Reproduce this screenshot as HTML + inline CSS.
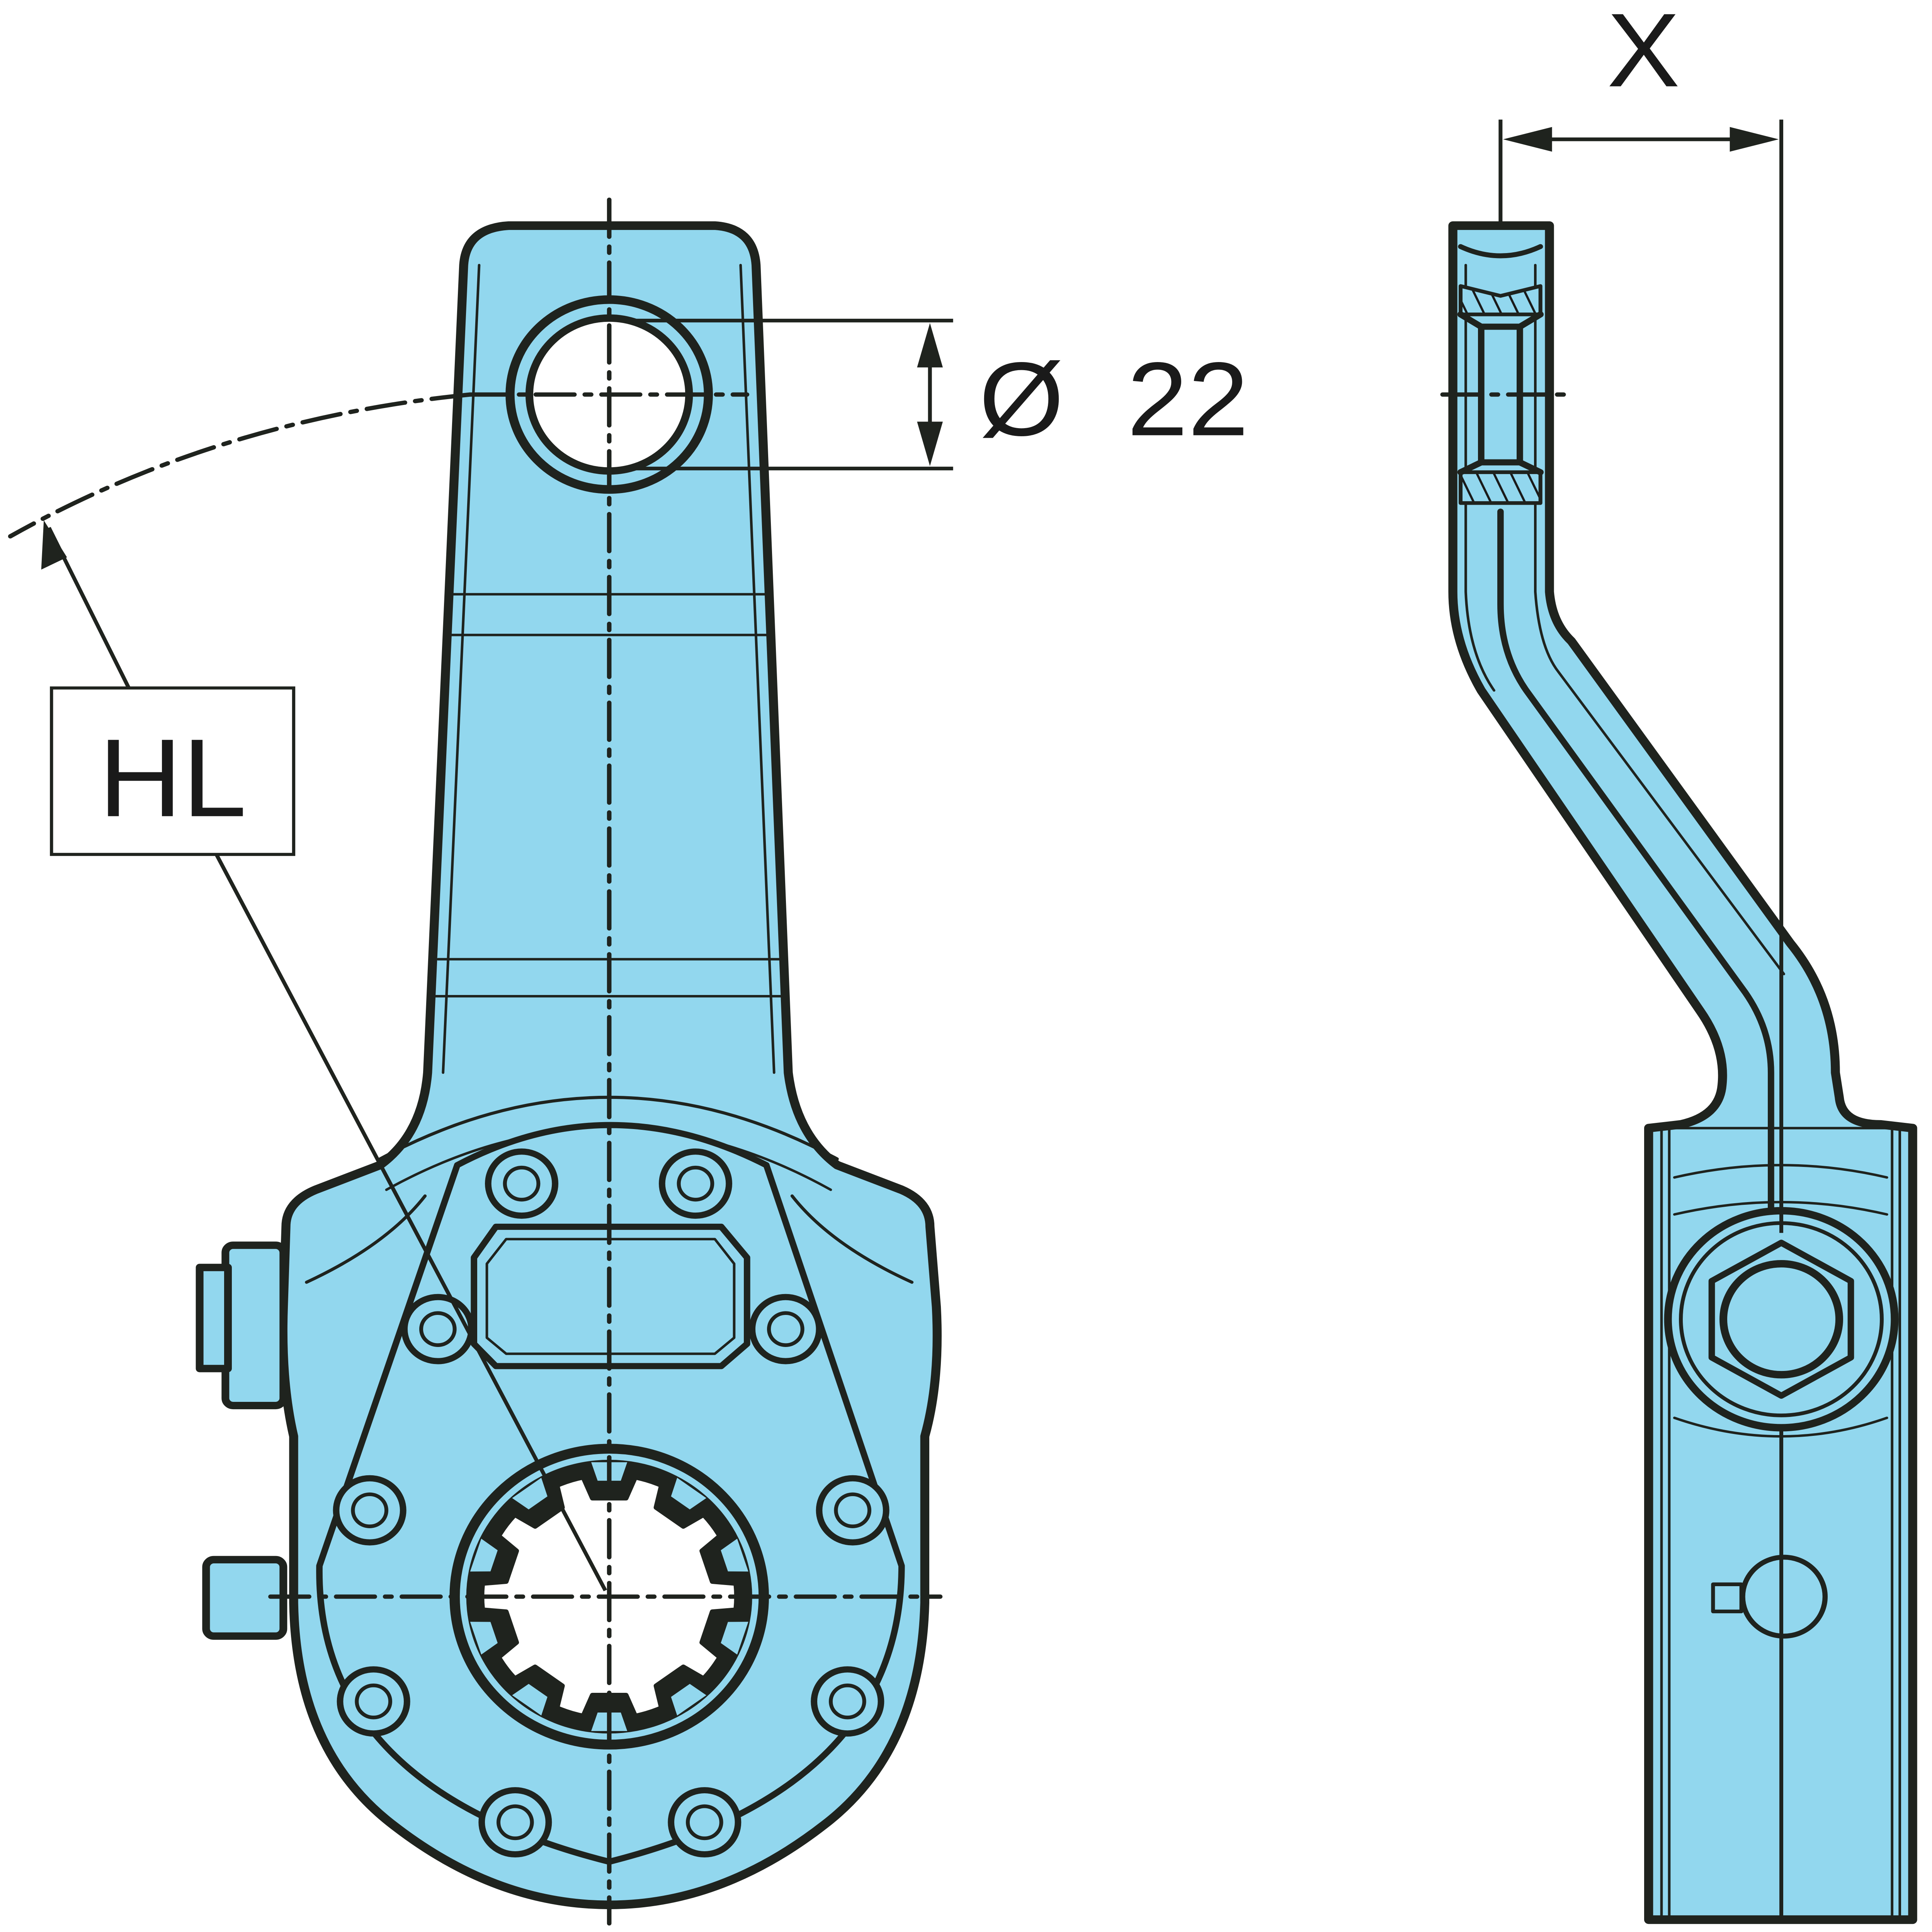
<!DOCTYPE html>
<html><head><meta charset="utf-8"><style>
html,body{margin:0;padding:0;background:#fff;width:100%;height:100%;overflow:hidden;}
svg{display:block;width:100vw;height:100vh;}
text{font-family:"Liberation Sans",sans-serif;fill:#1a1a1a;}
</style></head><body>
<svg viewBox="0 0 1500 1567" preserveAspectRatio="none" xmlns="http://www.w3.org/2000/svg">
<defs>
<pattern id="hatch" patternUnits="userSpaceOnUse" width="12" height="12" patternTransform="rotate(-25)">
<rect width="12" height="12" fill="#92d7ee"/><line x1="0" y1="0" x2="0" y2="12" stroke="#1a1a1a" stroke-width="3.5"/>
</pattern>
<g id="tooth">
<polygon points="-24,-106 24,-106 13,-80 -13,-80" fill="#1f231e" stroke="#1f231e" stroke-width="4" stroke-linejoin="round"/>
<polygon points="-14,-109 14,-109 9,-94 -9,-94" fill="#92d7ee"/>
</g>
</defs>
<g stroke="#1f231e" fill="#92d7ee" stroke-linejoin="round" stroke-linecap="round">
<path d="M395,183 L555,183 Q585,185 587,215 L612,870 Q618,920 650,945 L700,965 Q722,975 722,995 L727,1060 Q730,1120 718,1165 L718,1300 Q715,1420 640,1480 Q560,1545 473,1545 Q385,1545 305,1480 Q230,1420 228,1300 L228,1165 Q218,1120 220,1060 L222,995 Q222,975 245,965 L295,945 Q328,920 332,870 L360,215 Q362,185 395,183 Z" stroke-width="7"/>
<path d="M372,215 L344,870" fill="none" stroke-width="2"/>
<path d="M575,215 L601,870" fill="none" stroke-width="2"/>
<path d="M352,482 L596,482 M350,515 L598,515 M340,778 L606,778 M338,808 L608,808" stroke-width="2" fill="none"/>
<path d="M295,940 Q473,840 650,940" fill="none" stroke-width="2.5"/>
<path d="M300,965 Q473,865 645,965" fill="none" stroke-width="2"/>
<path d="M238,1040 Q300,1010 330,970 M708,1040 Q645,1010 615,970" fill="none" stroke-width="2.5"/>
<path d="M355,945 Q473,880 595,945 L700,1270 Q700,1450 473,1510 Q245,1450 248,1270 Z" stroke-width="5"/>
<path d="M385,995 L560,995 L580,1020 L580,1090 L560,1108 L385,1108 L368,1090 L368,1020 Z" fill="none" stroke-width="5"/>
<path d="M393,1005 L555,1005 L570,1025 L570,1085 L555,1098 L393,1098 L378,1085 L378,1025 Z" fill="none" stroke-width="2"/>
<circle cx="473" cy="320" r="77" stroke-width="7"/>
<circle cx="473" cy="320" r="62" fill="#fff" stroke-width="6"/>
<circle cx="473" cy="1295" r="120" stroke-width="8"/>
<rect x="175" y="1010" width="45" height="130" rx="6" stroke-width="6"/>
<rect x="155" y="1028" width="22" height="82" stroke-width="6"/>
<rect x="160" y="1265" width="60" height="62" rx="6" stroke-width="6"/>
<path d="M1128,183 L1203,183 L1203,480 Q1205,505 1220,520 L1390,765 Q1425,810 1425,870 L1428,890 Q1430,912 1460,912 L1485,915 L1485,1557 L1280,1557 L1280,915 L1305,912 Q1335,905 1337,880 Q1340,850 1320,820 L1150,560 Q1128,520 1128,480 Z" stroke-width="7"/>
<path d="M1165,415 L1165,490 Q1165,530 1185,560 L1355,805 Q1375,835 1375,870 L1375,990" fill="none" stroke-width="5"/>
<path d="M1138,215 L1138,480 Q1140,530 1160,560 M1192,215 L1192,480 Q1195,525 1210,545 L1385,790" fill="none" stroke-width="2"/>
<path d="M1134,232 L1165,240 L1196,232 L1196,255 L1134,255 Z" fill="url(#hatch)" stroke-width="3"/>
<path d="M1134,383 L1196,383 L1196,408 L1134,408 Z" fill="url(#hatch)" stroke-width="3"/>
<path d="M1134,255 L1150,265 L1180,265 L1196,255 M1134,383 L1150,375 L1180,375 L1196,383" fill="none" stroke-width="5"/>
<rect x="1150" y="265" width="30" height="110" stroke-width="5"/>
<path d="M1134,200 Q1165,215 1196,200" fill="none" stroke-width="4"/>
<rect x="1290" y="915" width="185" height="640" fill="none" stroke-width="2"/>
<path d="M1296,915 L1296,1555 M1469,915 L1469,1555" fill="none" stroke-width="2"/>
<circle cx="1383" cy="1070" r="88" stroke-width="6"/>
<circle cx="1383" cy="1070" r="78" fill="none" stroke-width="3"/>
<polygon points="1383,1008 1437,1039 1437,1101 1383,1132 1329,1101 1329,1039" stroke-width="5"/>
<circle cx="1383" cy="1070" r="45" stroke-width="6"/>
<path d="M1300,955 Q1383,935 1465,955 M1300,985 Q1383,965 1465,985 M1300,1150 Q1383,1180 1465,1150" fill="none" stroke-width="2"/>
<circle cx="1385" cy="1295" r="32" stroke-width="4"/>
<rect x="1330" y="1285" width="22" height="22" stroke-width="3"/>
<line x1="1383" y1="1160" x2="1383" y2="1557" stroke-width="3"/>
</g>
<!-- spline -->
<circle cx="473" cy="1295" r="113" fill="none" stroke="#92d7ee" stroke-width="2"/>
<circle cx="473" cy="1295" r="111" fill="#1f231e"/>
<circle cx="473" cy="1295" r="97" fill="#fff"/>
<g transform="translate(473,1295)">
<use href="#tooth"/>
<use href="#tooth" transform="rotate(36)"/><use href="#tooth" transform="rotate(72)"/>
<use href="#tooth" transform="rotate(108)"/><use href="#tooth" transform="rotate(144)"/>
<use href="#tooth" transform="rotate(180)"/><use href="#tooth" transform="rotate(216)"/>
<use href="#tooth" transform="rotate(252)"/><use href="#tooth" transform="rotate(288)"/>
<use href="#tooth" transform="rotate(324)"/>
</g>
<g stroke="#1f231e" fill="#92d7ee">
<g stroke-width="5">
<circle cx="405" cy="960" r="26"/><circle cx="540" cy="960" r="26"/>
<circle cx="340" cy="1078" r="26"/><circle cx="610" cy="1078" r="26"/>
<circle cx="287" cy="1225" r="26"/><circle cx="662" cy="1225" r="26"/>
<circle cx="290" cy="1380" r="26"/><circle cx="658" cy="1380" r="26"/>
<circle cx="400" cy="1478" r="26"/><circle cx="547" cy="1478" r="26"/>
</g>
<g stroke-width="3">
<circle cx="405" cy="960" r="13"/><circle cx="540" cy="960" r="13"/>
<circle cx="340" cy="1078" r="13"/><circle cx="610" cy="1078" r="13"/>
<circle cx="287" cy="1225" r="13"/><circle cx="662" cy="1225" r="13"/>
<circle cx="290" cy="1380" r="13"/><circle cx="658" cy="1380" r="13"/>
<circle cx="400" cy="1478" r="13"/><circle cx="547" cy="1478" r="13"/>
</g>
</g>
<g stroke="#1f231e" stroke-width="3.5" fill="none" stroke-dasharray="30,8,5,8" stroke-linecap="round">
<line x1="473" y1="162" x2="473" y2="1560"/>
<line x1="365" y1="320" x2="580" y2="320"/>
<line x1="210" y1="1295" x2="730" y2="1295"/>
<line x1="1120" y1="320" x2="1215" y2="320"/>
<path d="M365,320 Q170,340 8,435"/>
</g>
<g stroke="#1f231e" stroke-width="3" fill="none">
<line x1="490" y1="260" x2="740" y2="260"/>
<line x1="490" y1="380" x2="740" y2="380"/>
<line x1="722" y1="270" x2="722" y2="370"/>
<line x1="1165" y1="97" x2="1165" y2="185"/>
<line x1="1383" y1="97" x2="1383" y2="1000"/>
<line x1="1175" y1="113" x2="1373" y2="113"/>
<line x1="100" y1="558" x2="38" y2="428"/>
<line x1="168" y1="693" x2="470" y2="1290"/>
</g>
<polygon points="722,262 712,298 732,298" fill="#1f231e"/>
<polygon points="722,378 712,342 732,342" fill="#1f231e"/>
<polygon points="1167,113 1205,103 1205,123" fill="#1f231e"/>
<polygon points="1381,113 1343,103 1343,123" fill="#1f231e"/>
<polygon points="34,422 32,462 52,452" fill="#1f231e"/>
<rect x="40" y="558" width="188" height="135" fill="#fff" stroke="#1f231e" stroke-width="2.5"/>
<text x="134" y="662" font-size="90" text-anchor="middle">HL</text>
<text x="760" y="353" font-size="85">Ø</text>
<text x="875" y="353" font-size="85">22</text>
<text x="1276" y="70" font-size="85" text-anchor="middle">X</text>
</svg>
</body></html>
